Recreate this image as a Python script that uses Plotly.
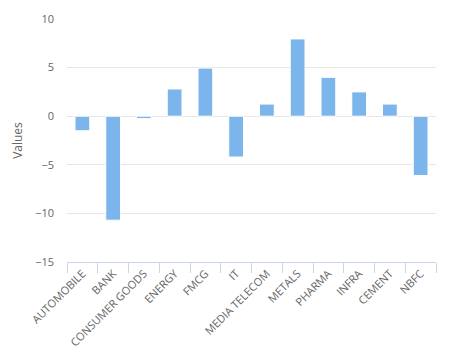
import plotly.graph_objects as go

categories = ["AUTOMOBILE", "BANK", "CONSUMER GOODS", "ENERGY", "FMCG", "IT",
              "MEDIA TELECOM", "METALS", "PHARMA", "INFRA", "CEMENT", "NBFC"]
values = [-1.5, -10.7, -0.25, 2.8, 4.95, -4.2, 1.25, 7.95, 4.0, 2.5, 1.25, -6.1]
y_ticks = [-15, -10, -5, 0, 5, 10]

fig = go.Figure(go.Bar(
    x=categories, y=values,
    marker=dict(color="#7cb5ec", line=dict(color="#ffffff", width=1)),
))

fig.update_layout(
    width=452, height=354,
    margin=dict(l=67, r=16, t=19, b=92),
    paper_bgcolor="white", plot_bgcolor="white",
    font=dict(family="Open Sans, sans-serif", color="#666666", size=11),
    bargap=0.52,
    showlegend=False,
)
fig.update_xaxes(
    type="category", tickangle=-45, tickson="boundaries",
    ticks="outside", ticklen=10, tickcolor="#ccd6eb", tickwidth=1,
    showline=True, linecolor="#ccd6eb", linewidth=1,
    showgrid=False, tickfont=dict(size=11, color="#666666"),
    automargin=False,
)
fig.update_yaxes(
    range=[-15, 10], tickvals=y_ticks,
    showgrid=True, gridcolor="#e6e6e6", gridwidth=1,
    zeroline=False, showline=False,
    ticklabelstandoff=12,
    tickfont=dict(size=11, color="#666666"),
    title=dict(text="Values", font=dict(size=12, color="#666666"), standoff=9),
    automargin=False,
)

fig.write_html("out.html")
